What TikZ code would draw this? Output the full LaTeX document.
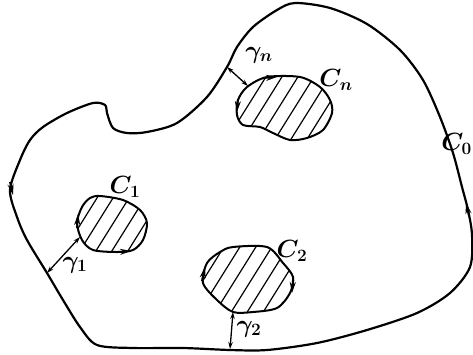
\documentclass[tikz,border=0pt]{standalone}
\usetikzlibrary{arrows.meta}

\tikzset{
  contour/.style={line width=2.2pt, line join=round},
  hole/.style={line width=2pt, line join=round},
  hatch/.style={line width=1.2pt},
  cut/.style={line width=1.3pt, {Stealth[length=7pt,width=4.5pt]}-{Stealth[length=7pt,width=4.5pt]}},
  tip/.style={line width=1.8pt, -{Stealth[length=11pt,width=6pt]}},
  lbl/.style={font=\fontsize{25}{27}\selectfont\boldmath, inner sep=0pt}
}

\begin{document}
\begin{tikzpicture}[x=1pt, y=-1pt]
  \useasboundingbox (0,0) rectangle (473,354);

  % Contour exterieur C_0
  \draw[contour] plot[smooth cycle, tension=0.5] coordinates {
    (295,3) (330,8) (367,24) (400,50) (423,80) (440,117) (453,153)
    (462,187) (468,210) (472,235) (470,267) (450,293) (417,313)
    (367,330) (317,343) (267,350) (230,350) (183,348) (133,348)
    (97,345) (80,327) (63,300) (47,273) (27,240) (17,217) (10,190)
    (20,160) (30,140) (43,127) (67,113) (93,103) (105,105) (107,113)
    (113,128) (127,133) (147,132) (177,123) (207,97) (227,67)
    (237,47) (253,27) (277,10)};

  % Trous hachures
  \begin{scope}
    \clip plot[smooth cycle] coordinates {(247,87) (267,77) (300,77) (320,87) (330,100) (332,113) (323,130) (307,138) (290,140) (273,133) (260,127) (243,125) (237,115) (238,100)};
    \foreach \i in {150,166,...,330} \draw[hatch] (\i,160) -- ++(60,-96);
  \end{scope}
  \draw[hole] plot[smooth cycle] coordinates {(247,87) (267,77) (300,77) (320,87) (330,100) (332,113) (323,130) (307,138) (290,140) (273,133) (260,127) (243,125) (237,115) (238,100)};

  \begin{scope}
    \clip plot[smooth cycle] coordinates {(90,198) (100,196) (123,200) (140,210) (147,223) (143,240) (133,250) (117,252) (93,250) (82,240) (77,223) (82,207)};
    \foreach \i in {20,36,...,160} \draw[hatch] (\i,270) -- ++(60,-96);
  \end{scope}
  \draw[hole] plot[smooth cycle] coordinates {(90,198) (100,196) (123,200) (140,210) (147,223) (143,240) (133,250) (117,252) (93,250) (82,240) (77,223) (82,207)};

  \begin{scope}
    \clip plot[smooth cycle] coordinates {(233,247) (267,247) (283,263) (293,277) (290,293) (277,308) (253,312) (233,312) (217,300) (203,283) (207,263) (220,252)};
    \foreach \i in {140,156,...,310} \draw[hatch] (\i,330) -- ++(60,-96);
  \end{scope}
  \draw[hole] plot[smooth cycle] coordinates {(233,247) (267,247) (283,263) (293,277) (290,293) (277,308) (253,312) (233,312) (217,300) (203,283) (207,263) (220,252)};

  % Sens de parcours
  \draw[tip] (10,182) -- (13,195);
  \draw[tip] (469,216) -- (466,203);
  \draw[tip] (264,78) -- (277,77);
  \draw[tip] (238,99) -- (237,112);
  \draw[tip] (77,228) -- (78,214);
  \draw[tip] (118,252) -- (131,251);
  \draw[tip] (202,281) -- (205,267);
  \draw[tip] (293,279) -- (292,293);

  % Coupures gamma
  \coordinate (on) at (227,67);
  \coordinate (hn) at (248,86);
  \coordinate (o1) at (47,273);
  \coordinate (h1) at (80,237);
  \coordinate (o2) at (230,349);
  \coordinate (h2) at (233,312);
  \draw[cut] (on) -- (hn);
  \draw[cut] (o1) -- (h1);
  \draw[cut] (o2) -- (h2);

  % Etiquettes
  \node[lbl] (lCn) at (336,80) {$C_n$};
  \node[lbl] (lC1) at (125,187) {$C_1$};
  \node[lbl] (lC2) at (292,251) {$C_2$};
  \node[lbl, anchor=east] (lC0) at (472,144) {$C_0$};
  \node[lbl] (lgn) at (259,55) {$\gamma_n$};
  \node[lbl] (lg1) at (75,265) {$\gamma_1$};
  \node[lbl] (lg2) at (249,329) {$\gamma_2$};
\end{tikzpicture}
\end{document}
